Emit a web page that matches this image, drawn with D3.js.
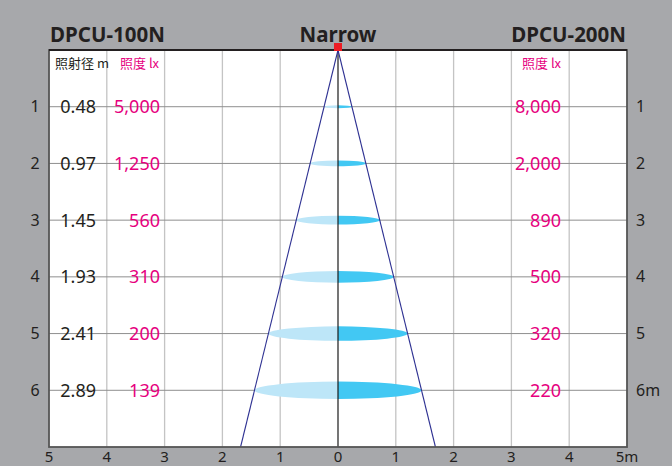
<!DOCTYPE html>
<html>
<head>
<meta charset="utf-8">
<script src="https://cdn.jsdelivr.net/npm/d3@7"></script>
<style>
  body { margin: 0; background: #a7a8ab; }
  svg { display: block; font-family: "Noto Sans", "Noto Sans CJK JP", sans-serif; }
</style>
</head>
<body>
<div id="chart"></div>
<script>
// Beam chart data
const distances = [1, 2, 3, 4, 5, 6];
const diameters = [0.48, 0.97, 1.45, 1.93, 2.41, 2.89];
const lux100 = ["5,000", "1,250", "560", "310", "200", "139"];
const lux200 = ["8,000", "2,000", "890", "500", "320", "220"];
const xTicks = [-5, -4, -3, -2, -1, 0, 1, 2, 3, 4, 5];
const rowLabels = ["1", "2", "3", "4", "5", "6m"];

const width = 672;
const height = 466;

const svg = d3.select("#chart")
  .append("svg")
  .attr("width", width)
  .attr("height", height);

svg.append("rect")
  .attr("width", width)
  .attr("height", height)
  .attr("fill", "#a7a8ab");

const x = d3.scaleLinear().domain([-5, 5]).range([49, 627]);
const y = d3.scaleLinear().domain([0, 7]).range([50, 447]);

// plot area
svg.append("rect")
  .attr("x", x(-5))
  .attr("y", y(0))
  .attr("width", x(5) - x(-5))
  .attr("height", y(7) - y(0))
  .attr("fill", "#fff");

// vertical grid
svg.append("g")
  .selectAll("line")
  .data(xTicks.filter(d => Math.abs(d) < 5 && d !== 0))
  .enter().append("line")
  .attr("x1", d => x(d))
  .attr("x2", d => x(d))
  .attr("y1", y(0))
  .attr("y2", y(7))
  .attr("stroke", "#c4c4c4")
  .attr("stroke-width", 1.3);

// horizontal rows
svg.append("g")
  .selectAll("line")
  .data(distances)
  .enter().append("line")
  .attr("x1", x(-5))
  .attr("x2", x(5))
  .attr("y1", d => y(d))
  .attr("y2", d => y(d))
  .attr("stroke", "#8e8e8e")
  .attr("stroke-width", 1);

// light spots: left half pale, right half bright
const ryScale = 3;
const spots = svg.append("g");
distances.forEach((d, i) => {
  const cx = x(0), cy = y(d);
  const rx = x(diameters[i] / 2) - x(0);
  const ry = diameters[i] * ryScale;
  spots.append("path")
    .attr("d", `M${cx},${cy - ry} A${rx},${ry} 0 0 0 ${cx},${cy + ry} Z`)
    .attr("fill", "#bde6f8");
  spots.append("path")
    .attr("d", `M${cx},${cy - ry} A${rx},${ry} 0 0 1 ${cx},${cy + ry} Z`)
    .attr("fill", "#42c8f3");
});

// centre line
svg.append("line")
  .attr("x1", x(0)).attr("x2", x(0))
  .attr("y1", y(0)).attr("y2", y(7))
  .attr("stroke", "#1a1a1a")
  .attr("stroke-width", 1.2);

// beam edges
const slope = diameters[5] / 2 / distances[5];
[-1, 1].forEach(s => {
  svg.append("line")
    .attr("x1", x(0)).attr("y1", y(0))
    .attr("x2", x(s * slope * 7)).attr("y2", y(7))
    .attr("stroke", "#2e3192")
    .attr("stroke-width", 1.1);
});

// frame
svg.append("rect")
  .attr("x", x(-5))
  .attr("y", y(0))
  .attr("width", x(5) - x(-5))
  .attr("height", y(7) - y(0))
  .attr("fill", "none")
  .attr("stroke", "#555")
  .attr("stroke-width", 1.8);
svg.append("line")
  .attr("x1", x(-5)).attr("x2", x(5))
  .attr("y1", y(0)).attr("y2", y(0))
  .attr("stroke", "#231f20")
  .attr("stroke-width", 2);

// apex marker
svg.append("rect")
  .attr("x", x(0) - 4)
  .attr("y", y(0) - 7)
  .attr("width", 8)
  .attr("height", 8)
  .attr("fill", "#ed1c24");

// titles
const title = svg.append("g")
  .attr("font-weight", "bold")
  .attr("font-size", 20.5)
  .attr("fill", "#231f20");
title.append("text").attr("x", 50).attr("y", 42).text("DPCU-100N");
title.append("text").attr("x", x(0)).attr("y", 42).attr("text-anchor", "middle").text("Narrow");
title.append("text").attr("x", 626).attr("y", 42).attr("text-anchor", "end").text("DPCU-200N");

// column headers
svg.append("text")
  .attr("x", 55).attr("y", 68)
  .attr("font-size", 13)
  .attr("font-family", "Noto Sans CJK JP")
  .attr("fill", "#231f20")
  .text("照射径 m");
svg.append("text")
  .attr("x", 120).attr("y", 68)
  .attr("font-size", 13)
  .attr("font-family", "Noto Sans CJK JP")
  .attr("fill", "#e6007e")
  .text("照度 lx");
svg.append("text")
  .attr("x", 522).attr("y", 68)
  .attr("font-size", 13)
  .attr("font-family", "Noto Sans CJK JP")
  .attr("fill", "#e6007e")
  .text("照度 lx");

// value columns
const vals = svg.append("g").attr("font-size", 18);
vals.selectAll(".dia")
  .data(diameters)
  .enter().append("text")
  .attr("x", 96)
  .attr("y", (d, i) => y(distances[i]) + 6.5)
  .attr("text-anchor", "end")
  .attr("fill", "#231f20")
  .text(d => d.toFixed(2));
vals.selectAll(".l100")
  .data(lux100)
  .enter().append("text")
  .attr("x", 160)
  .attr("y", (d, i) => y(distances[i]) + 6.5)
  .attr("text-anchor", "end")
  .attr("fill", "#e6007e")
  .text(d => d);
vals.selectAll(".l200")
  .data(lux200)
  .enter().append("text")
  .attr("x", 561)
  .attr("y", (d, i) => y(distances[i]) + 6.5)
  .attr("text-anchor", "end")
  .attr("fill", "#e6007e")
  .text(d => d);

// row labels both sides
const rows = svg.append("g").attr("font-size", 16).attr("fill", "#231f20");
rows.selectAll(".rl")
  .data(distances)
  .enter().append("text")
  .attr("x", 35)
  .attr("y", d => y(d) + 5.5)
  .attr("text-anchor", "middle")
  .text(d => d);
rows.selectAll(".rr")
  .data(rowLabels)
  .enter().append("text")
  .attr("x", 636)
  .attr("y", (d, i) => y(distances[i]) + 5.5)
  .text(d => d);

// bottom axis labels
svg.append("g")
  .attr("font-size", 15)
  .attr("fill", "#231f20")
  .selectAll("text")
  .data(xTicks)
  .enter().append("text")
  .attr("x", d => x(d))
  .attr("y", 462)
  .attr("text-anchor", "middle")
  .text(d => d === 5 ? "5m" : Math.abs(d));
</script>
</body>
</html>
